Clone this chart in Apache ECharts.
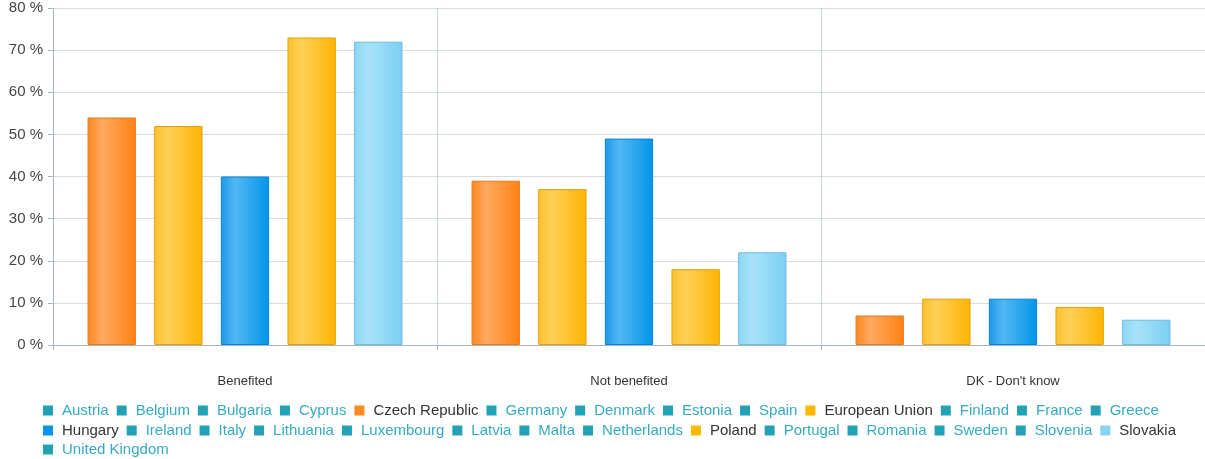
<!DOCTYPE html>
<html><head><meta charset="utf-8">
<script src="https://cdn.jsdelivr.net/npm/echarts@6/dist/echarts.min.js"></script>
<style>html,body{margin:0;padding:0;background:#fff}#c{width:1205px;height:459px}</style>
</head><body><div id="c"></div>
<script>
const categories = ['Benefited', 'Not benefited', 'DK - Don\'t know'];
const czechRepublic = [54, 39, 7];
const europeanUnion = [52, 37, 11];
const hungary = [40, 49, 11];
const poland = [73, 18, 9];
const slovakia = [72, 22, 6];
const legendRow1 = ['Austria','Belgium','Bulgaria','Cyprus','Czech Republic','Germany','Denmark','Estonia','Spain','European Union','Finland','France','Greece'];
const legendRow2 = ['Hungary','Ireland','Italy','Lithuania','Luxembourg','Latvia','Malta','Netherlands','Poland','Portugal','Romania','Sweden','Slovenia','Slovakia'];
const legendRow3 = ['United Kingdom'];
const yTicks = [0, 10, 20, 30, 40, 50, 60, 70, 80];

function grad(a, b, c) {
  return new echarts.graphic.LinearGradient(0, 0, 1, 0, [
    {offset: 0, color: a}, {offset: 0.3, color: b}, {offset: 1, color: c}
  ]);
}
const active = {
  'Czech Republic': {data: czechRepublic, fill: grad('#FF8A1F', '#FFA860', '#FF8412'), border: '#E8761A', icon: '#FF8A1F'},
  'European Union': {data: europeanUnion, fill: grad('#FFC12E', '#FFD057', '#FFB400'), border: '#E0A000', icon: '#FFB800'},
  'Hungary': {data: hungary, fill: grad('#1C9AE8', '#52B8F3', '#0393E8'), border: '#0A84CC', icon: '#0A94E8'},
  'Poland': {data: poland, fill: grad('#FFC12E', '#FFD057', '#FFB400'), border: '#E0A000', icon: '#FFB800'},
  'Slovakia': {data: slovakia, fill: grad('#8DD5F5', '#A8E2F9', '#7ACEF3'), border: '#6ABCE0', icon: '#86D3F5'}
};
const teal = '#23A2B6';
const tealText = '#35AAC2';
const series = [];
function rowData(names) {
  return names.map(n => active[n]
    ? {name: n, textStyle: {color: '#333'}, itemStyle: {color: active[n].icon, borderWidth: 0}}
    : {name: n, textStyle: {color: tealText}, itemStyle: {color: teal, borderWidth: 0}});
}
legendRow1.concat(legendRow2, legendRow3).forEach(n => {
  if (!active[n]) series.push({name: n, type: 'line', data: [], itemStyle: {color: teal}});
});
Object.keys(active).forEach(n => {
  const a = active[n];
  series.push({
    name: n, type: 'bar', data: a.data,
    barGap: '38%', barCategoryGap: '18%',
    itemStyle: {color: a.fill, borderColor: a.border, borderWidth: 1}
  });
});
function legendRow(names, top) {
  return {
    data: rowData(names), left: 38, top: top, orient: 'horizontal',
    icon: 'rect', itemWidth: 10, itemHeight: 10, itemGap: 8,
    textStyle: {fontSize: 15, fontFamily: 'Liberation Sans, Arial, sans-serif', padding: [0, 0, 0, 4]},
    selectedMode: false
  };
}

const chart = echarts.init(document.getElementById('c'));
chart.setOption({
  animation: false,
  textStyle: {fontFamily: 'Liberation Sans, Arial, sans-serif'},
  grid: {left: 53, right: 0, top: 8, bottom: 114, containLabel: false},
  legend: [legendRow(legendRow1, 398), legendRow(legendRow2, 418), legendRow(legendRow3, 437)],
  xAxis: {
    type: 'category', data: categories,
    axisLine: {lineStyle: {color: '#A9B6C2'}},
    axisTick: {show: true, length: 5, lineStyle: {color: '#A9B6C2'}},
    axisLabel: {color: '#333', fontSize: 13, margin: 30},
    splitLine: {show: true, lineStyle: {color: '#C8D2DC'}}
  },
  yAxis: {
    type: 'value', min: 0, max: 80, interval: 10,
    axisLine: {show: true, lineStyle: {color: '#A9B6C2'}},
    axisTick: {show: true, length: 5, lineStyle: {color: '#A9B6C2'}},
    axisLabel: {color: '#444', fontSize: 15, margin: 10, formatter: v => yTicks.includes(v) ? v + ' %' : ''},
    splitLine: {lineStyle: {color: '#D5DDE5'}}
  },
  series: series
});
</script></body></html>
